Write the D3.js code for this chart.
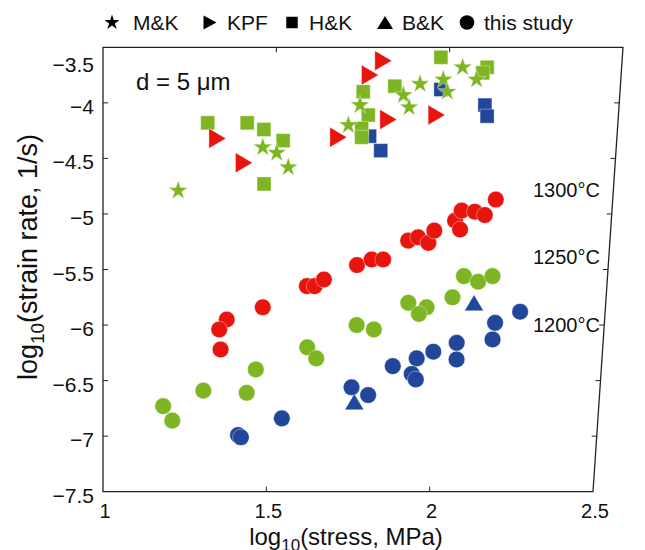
<!DOCTYPE html>
<html>
<head>
<meta charset="utf-8">
<script src="https://cdn.jsdelivr.net/npm/d3@7"></script>
<style>
body { margin: 0; background: #fff; }
text { font-family: "Liberation Sans", Arial, sans-serif; fill: #111; }
</style>
</head>
<body>
<script>
// this study, 1300 C
var c1300X = [1.370,1.348,1.353,1.477,1.607,1.630,1.657,1.754,1.797,1.831,1.903,1.932,1.963,1.979,2.039,2.055,2.057,2.096,2.126,2.156];
var c1300Y = [-5.95,-6.04,-6.22,-5.84,-5.65,-5.65,-5.59,-5.46,-5.41,-5.41,-5.24,-5.21,-5.26,-5.15,-5.06,-5.14,-4.97,-4.98,-5.01,-4.87];
// this study, 1250 C
var c1250X = [1.182,1.210,1.303,1.434,1.460,1.613,1.641,1.759,1.811,1.911,1.966,1.944,2.042,2.073,2.116,2.158];
var c1250Y = [-6.73,-6.86,-6.59,-6.61,-6.40,-6.20,-6.30,-6.00,-6.04,-5.80,-5.84,-5.90,-5.75,-5.56,-5.61,-5.56];
// this study, 1200 C
var c1200X = [1.410,1.419,1.542,1.750,1.801,1.872,1.943,1.930,1.943,1.992,2.061,2.063,2.173,2.168,2.246];
var c1200Y = [-6.99,-7.01,-6.84,-6.56,-6.63,-6.37,-6.30,-6.44,-6.49,-6.24,-6.16,-6.31,-5.98,-6.13,-5.88];
// B&K
var bkX = [1.760, 2.107];
var bkY = [-6.69, -5.80];
// KPF
var kpfX = [1.334,1.413,1.687,1.773,1.810,1.831,1.971];
var kpfY = [-4.32,-4.54,-4.31,-3.75,-3.62,-4.15,-4.11];
// H&K (green and blue)
var hkGreenX = [1.305,1.420,1.469,1.526,1.473,1.755,1.846,1.772,1.754,1.755,1.976,2.111,2.099];
var hkGreenY = [-4.18,-4.18,-4.24,-4.34,-4.73,-3.90,-3.85,-4.11,-4.23,-4.31,-3.59,-3.68,-3.73];
var hkBlueX = [1.980,2.110,2.118,1.778,1.812];
var hkBlueY = [-3.88,-4.02,-4.12,-4.30,-4.43];
// M&K
var mkX = [1.221,1.467,1.508,1.543,1.715,1.747,1.872,1.890,1.919,1.986,1.999,2.040,2.082];
var mkY = [-4.79,-4.40,-4.45,-4.58,-4.20,-4.02,-3.93,-4.04,-3.83,-3.79,-3.90,-3.68,-3.79];

var xTicks = [1, 1.5, 2, 2.5];
var yTicks = [-3.5, -4, -4.5, -5, -5.5, -6, -6.5, -7, -7.5];
var legendLabels = ["M\u0026K", "KPF", "H\u0026K", "B\u0026K", "this study"];
var tempLabels = ["1300\u00B0C", "1250\u00B0C", "1200\u00B0C"];

var RED = "#e8140e", GREEN = "#7db622", BLUE = "#21469a";

var svg = d3.select("body").append("svg")
    .attr("width", 645)
    .attr("height", 550);

var x = d3.scaleLinear().domain([1, 2.5]).range([103, 593]);
var y = d3.scaleLinear().domain([-7.5, -3.5]).range([491.7, 47.3]);

// the source picture is slightly keystoned: wider at the top than at the bottom
var keystone = 0.0612;
function px(vx, vy) {
  var s = 1 + keystone * (y(-7.5) - y(vy)) / (y(-7.5) - y(-3.5));
  return x(1) + (x(vx) - x(1)) * s;
}

function zip(xs, ys) { return xs.map(function(v, i) { return {x: v, y: ys[i]}; }); }

function starPath(R) {
  var r = R * 0.382, p = [];
  for (var i = 0; i < 10; i++) {
    var a = -Math.PI / 2 + i * Math.PI / 5, rr = i % 2 ? r : R;
    p.push([rr * Math.cos(a), rr * Math.sin(a)]);
  }
  return "M" + p.join("L") + "Z";
}
function squarePath(s) { var h = s / 2; return "M" + -h + "," + -h + "H" + h + "V" + h + "H" + -h + "Z"; }
function triRightPath(w, h) { return "M" + (-w / 2) + "," + (-h / 2) + "L" + (w / 2) + ",0L" + (-w / 2) + "," + (h / 2) + "Z"; }
function triUpPath(w, h) { return "M0," + (-h / 2) + "L" + (w / 2) + "," + (h / 2) + "L" + (-w / 2) + "," + (h / 2) + "Z"; }
function circlePath(r) { return "M" + r + ",0A" + r + "," + r + " 0 1,1 " + -r + ",0A" + r + "," + r + " 0 1,1 " + r + ",0Z"; }

// frame
var frame = [[1, -3.5], [2.5, -3.5], [2.5, -7.5], [1, -7.5]];
svg.append("path")
    .attr("d", "M" + frame.map(function(p) { return px(p[0], p[1]) + "," + y(p[1]); }).join("L") + "Z")
    .attr("fill", "none")
    .attr("stroke", "#222")
    .attr("stroke-width", 1.3);

// ticks
var tl = 5;
var ticks = svg.append("g").attr("stroke", "#222").attr("stroke-width", 1);
xTicks.slice(1, -1).forEach(function(t) {
  ticks.append("line").attr("x1", px(t, -7.5)).attr("x2", px(t, -7.5)).attr("y1", y(-7.5)).attr("y2", y(-7.5) - tl);
  ticks.append("line").attr("x1", px(t, -3.5)).attr("x2", px(t, -3.5)).attr("y1", y(-3.5)).attr("y2", y(-3.5) + tl);
});
yTicks.slice(1, -1).forEach(function(t) {
  ticks.append("line").attr("x1", x(1)).attr("x2", x(1) + tl).attr("y1", y(t)).attr("y2", y(t));
  ticks.append("line").attr("x1", px(2.5, t)).attr("x2", px(2.5, t) - tl).attr("y1", y(t)).attr("y2", y(t));
});

// tick labels
svg.append("g").selectAll("text").data(xTicks).enter().append("text")
    .attr("x", function(d) { return x(d) + 2; })
    .attr("y", 518)
    .attr("text-anchor", "middle")
    .style("font-size", "20px")
    .text(function(d) { return d; });

svg.append("g").selectAll("text").data(yTicks).enter().append("text")
    .attr("x", 94)
    .attr("y", function(d) { return d === -3.5 ? 72 : y(d) + 11; })
    .attr("text-anchor", "end")
    .style("font-size", "21px")
    .text(function(d) { return "\u2212" + Math.abs(d); });

// axis titles
var xt = svg.append("text")
    .attr("x", 346)
    .attr("y", 545)
    .attr("text-anchor", "middle")
    .style("font-size", "24px");
xt.append("tspan").text("log");
xt.append("tspan").attr("dy", 6).style("font-size", "17px").text("10");
xt.append("tspan").attr("dy", -6).text("(stress, MPa)");

var yt = svg.append("text")
    .attr("transform", "translate(37,257) rotate(-90)")
    .attr("text-anchor", "middle")
    .style("font-size", "27px");
yt.append("tspan").text("log");
yt.append("tspan").attr("dy", 7).style("font-size", "19px").text("10");
yt.append("tspan").attr("dy", -7).text("(strain rate, 1/s)");

// annotations
svg.append("text").attr("x", 136).attr("y", 90).style("font-size", "24px").text("d = 5 \u03BCm");
svg.append("g").selectAll("text").data(tempLabels).enter().append("text")
    .attr("x", 533)
    .attr("y", function(d, i) { return [197, 264, 332][i]; })
    .style("font-size", "20px")
    .text(function(d) { return d; });

// data marks
function drawSeries(data, path, color) {
  svg.append("g").selectAll("path").data(data).enter().append("path")
      .attr("d", path)
      .attr("transform", function(d) { return "translate(" + px(d.x, d.y) + "," + y(d.y) + ")"; })
      .attr("fill", color)
      .attr("stroke", "#fff")
      .attr("stroke-opacity", 0.55)
      .attr("stroke-width", 0.7);
}

drawSeries(zip(hkBlueX, hkBlueY), squarePath(14), BLUE);
drawSeries(zip(hkGreenX, hkGreenY), squarePath(14), GREEN);
drawSeries(zip(mkX, mkY), starPath(10), GREEN);
drawSeries(zip(kpfX, kpfY), triRightPath(17, 20), RED);
drawSeries(zip(bkX, bkY), triUpPath(19, 16), BLUE);
drawSeries(zip(c1300X, c1300Y), circlePath(8.3), RED);
drawSeries(zip(c1250X, c1250Y), circlePath(8.3), GREEN);
drawSeries(zip(c1200X, c1200Y), circlePath(8.3), BLUE);

// legend
var legendX = [112, 210, 292, 385, 467];
var legendShapes = [starPath(8), triRightPath(13, 14), squarePath(11.5), triUpPath(16, 13), circlePath(7.3)];
var legend = svg.append("g");
legendLabels.forEach(function(lab, i) {
  legend.append("path")
      .attr("d", legendShapes[i])
      .attr("transform", "translate(" + legendX[i] + ",22.5)")
      .attr("fill", "#000");
  legend.append("text")
      .attr("x", legendX[i] + (i === 0 ? 21 : 17))
      .attr("y", 30)
      .style("font-size", "21px")
      .text(lab);
});
</script>
</body>
</html>
